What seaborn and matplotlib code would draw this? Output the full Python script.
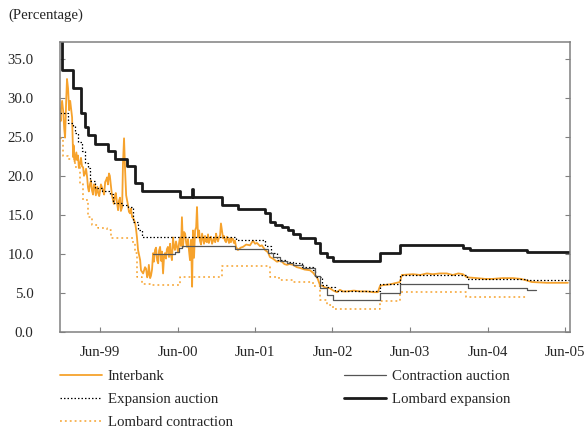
import pandas as pd
import seaborn as sns
import matplotlib.pyplot as plt

# Data (percent), as (date, rate) pairs
interbank = [
    ("1998-11-24", 28.1), ("1998-11-27", 27.0), ("1998-11-29", 28.6), ("1998-12-04", 29.6),
    ("1998-12-09", 28.3), ("1998-12-14", 26.0), ("1998-12-18", 24.9), ("1998-12-23", 29.5),
    ("1998-12-27", 32.4), ("1999-01-01", 31.2), ("1999-01-06", 28.4), ("1999-01-11", 29.6),
    ("1999-01-20", 27.5), ("1999-01-25", 22.4), ("1999-01-27", 23.9), ("1999-02-01", 21.8),
    ("1999-02-09", 23.0), ("1999-02-13", 22.0), ("1999-02-17", 22.6), ("1999-02-21", 21.0),
    ("1999-02-27", 21.6), ("1999-03-03", 22.3), ("1999-03-08", 21.2), ("1999-03-13", 21.1),
    ("1999-03-17", 20.0), ("1999-03-22", 20.3), ("1999-03-27", 20.9), ("1999-04-01", 19.8),
    ("1999-04-05", 18.5), ("1999-04-09", 18.0), ("1999-04-15", 19.0), ("1999-04-19", 19.4),
    ("1999-04-24", 18.1), ("1999-04-29", 17.6), ("1999-05-03", 18.9), ("1999-05-08", 18.8),
    ("1999-05-12", 17.5), ("1999-05-15", 18.0), ("1999-05-19", 18.6), ("1999-05-23", 17.8),
    ("1999-05-28", 17.4), ("1999-06-05", 18.9), ("1999-06-10", 18.5), ("1999-06-15", 18.1),
    ("1999-06-20", 17.6), ("1999-06-25", 19.2), ("1999-06-30", 19.5), ("1999-07-04", 19.8),
    ("1999-07-08", 18.9), ("1999-07-13", 20.3), ("1999-07-17", 20.0), ("1999-07-23", 18.5),
    ("1999-07-27", 17.5), ("1999-08-01", 16.9), ("1999-08-05", 16.4), ("1999-08-10", 17.4),
    ("1999-08-14", 17.8), ("1999-08-20", 16.5), ("1999-08-25", 15.6), ("1999-08-29", 16.8),
    ("1999-09-03", 17.2), ("1999-09-07", 15.5), ("1999-09-13", 16.0), ("1999-09-17", 21.6),
    ("1999-09-22", 24.8), ("1999-09-27", 20.7), ("1999-10-02", 17.5), ("1999-10-06", 16.9),
    ("1999-10-11", 16.2), ("1999-10-15", 15.4), ("1999-10-20", 15.2), ("1999-10-25", 15.8),
    ("1999-10-30", 14.7), ("1999-11-04", 14.6), ("1999-11-13", 14.0), ("1999-11-17", 13.3),
    ("1999-11-22", 12.1), ("1999-11-27", 10.5), ("1999-12-07", 9.2), ("1999-12-11", 7.9),
    ("1999-12-21", 7.5), ("1999-12-30", 8.3), ("2000-01-04", 8.1), ("2000-01-09", 7.0),
    ("2000-01-13", 7.3), ("2000-01-17", 8.6), ("2000-01-23", 6.9), ("2000-01-27", 7.2),
    ("2000-02-01", 8.0), ("2000-02-06", 10.1), ("2000-02-10", 9.0), ("2000-02-15", 10.5),
    ("2000-02-20", 10.8), ("2000-02-25", 9.2), ("2000-03-01", 8.8), ("2000-03-05", 10.4),
    ("2000-03-10", 10.9), ("2000-03-15", 9.1), ("2000-03-19", 10.3), ("2000-03-24", 7.5),
    ("2000-03-29", 9.8), ("2000-04-02", 10.1), ("2000-04-07", 9.4), ("2000-04-11", 10.6),
    ("2000-04-16", 10.9), ("2000-04-21", 9.6), ("2000-04-26", 11.3), ("2000-04-30", 9.9),
    ("2000-05-05", 9.2), ("2000-05-10", 12.1), ("2000-05-14", 11.0), ("2000-05-19", 10.5),
    ("2000-05-24", 11.6), ("2000-05-29", 10.9), ("2000-06-03", 10.2), ("2000-06-08", 11.5),
    ("2000-06-12", 12.1), ("2000-06-17", 11.0), ("2000-06-21", 14.7), ("2000-06-26", 10.9),
    ("2000-07-01", 12.8), ("2000-07-06", 12.6), ("2000-07-11", 11.4), ("2000-07-15", 10.9),
    ("2000-07-20", 11.9), ("2000-07-24", 10.5), ("2000-07-29", 9.2), ("2000-08-03", 11.8),
    ("2000-08-08", 5.8), ("2000-08-12", 13.0), ("2000-08-17", 9.5), ("2000-08-22", 13.0),
    ("2000-08-27", 13.4), ("2000-08-31", 16.0), ("2000-09-05", 12.1), ("2000-09-10", 13.0),
    ("2000-09-14", 11.7), ("2000-09-19", 11.2), ("2000-09-24", 12.6), ("2000-09-28", 12.0),
    ("2000-10-03", 11.3), ("2000-10-08", 12.3), ("2000-10-12", 11.6), ("2000-10-17", 11.5),
    ("2000-10-22", 12.5), ("2000-10-26", 11.4), ("2000-10-31", 12.0), ("2000-11-05", 12.2),
    ("2000-11-10", 11.3), ("2000-11-15", 11.7), ("2000-11-20", 12.1), ("2000-11-25", 11.5),
    ("2000-11-29", 12.6), ("2000-12-03", 12.0), ("2000-12-08", 11.6), ("2000-12-13", 12.1),
    ("2000-12-18", 12.4), ("2000-12-22", 13.9), ("2001-01-01", 12.0), ("2001-01-05", 12.3),
    ("2001-01-10", 11.7), ("2001-01-15", 11.5), ("2001-01-19", 12.2), ("2001-01-24", 11.9),
    ("2001-01-29", 11.4), ("2001-02-03", 12.0), ("2001-02-07", 11.5), ("2001-02-12", 12.0),
    ("2001-02-17", 11.9), ("2001-02-21", 11.4), ("2001-02-26", 11.7), ("2001-03-03", 10.9),
    ("2001-03-12", 10.5), ("2001-03-25", 10.8), ("2001-04-05", 10.9), ("2001-04-20", 11.2),
    ("2001-05-08", 11.1), ("2001-05-22", 11.7), ("2001-06-01", 11.3), ("2001-06-10", 11.4),
    ("2001-06-24", 11.0), ("2001-07-03", 11.1), ("2001-07-18", 10.5), ("2001-08-01", 10.2),
    ("2001-08-10", 9.6), ("2001-08-24", 9.4), ("2001-09-12", 9.0), ("2001-09-25", 9.1),
    ("2001-10-06", 9.0), ("2001-10-17", 8.7), ("2001-10-29", 8.6), ("2001-11-10", 8.7),
    ("2001-11-27", 8.6), ("2001-12-15", 8.3), ("2001-12-30", 8.2), ("2002-01-20", 8.0),
    ("2002-02-15", 7.9), ("2002-03-01", 7.6), ("2002-03-10", 7.3), ("2002-03-22", 6.9),
    ("2002-04-03", 6.0), ("2002-04-15", 5.9), ("2002-04-26", 5.7), ("2002-05-20", 5.6),
    ("2002-06-05", 5.3), ("2002-06-22", 5.1), ("2002-07-06", 5.4), ("2002-07-20", 5.2),
    ("2002-08-08", 5.2), ("2002-09-10", 5.3), ("2002-10-08", 5.2), ("2002-11-10", 5.2),
    ("2002-12-09", 5.1), ("2003-01-01", 5.1), ("2003-01-11", 5.9), ("2003-01-25", 6.0),
    ("2003-02-27", 6.1), ("2003-04-15", 6.4), ("2003-04-24", 7.3), ("2003-06-15", 7.4),
    ("2003-07-20", 7.3), ("2003-08-20", 7.5), ("2003-09-17", 7.4), ("2003-10-20", 7.5),
    ("2003-11-22", 7.5), ("2003-12-20", 7.3), ("2004-01-15", 7.5), ("2004-02-06", 7.4),
    ("2004-02-25", 7.0), ("2004-04-12", 6.9), ("2004-05-20", 6.8), ("2004-06-26", 6.8),
    ("2004-08-10", 6.9), ("2004-09-29", 6.9), ("2004-11-05", 6.8), ("2004-12-03", 6.6),
    ("2004-12-27", 6.4), ("2005-03-08", 6.3), ("2005-06-15", 6.3),
]

contraction_auction = [
    ("2000-02-06", 10.0), ("2000-05-19", 10.3), ("2000-06-05", 10.7), ("2000-06-21", 11.0),
    ("2001-02-26", 10.6), ("2001-07-31", 10.1), ("2001-08-25", 9.6), ("2001-09-27", 9.1),
    ("2001-10-30", 8.8), ("2001-11-28", 8.6), ("2002-01-13", 8.2), ("2002-03-10", 7.2),
    ("2002-04-03", 5.6), ("2002-05-04", 4.7), ("2002-06-03", 4.1), ("2003-01-11", 5.0),
    ("2003-04-15", 6.1), ("2004-03-01", 5.6), ("2004-12-03", 5.4), ("2005-01-15", 5.4),
]

expansion_auction = [
    ("1998-11-24", 28.1), ("1999-01-01", 26.7), ("1999-01-25", 26.4), ("1999-02-05", 25.5),
    ("1999-02-17", 24.3), ("1999-03-08", 23.2), ("1999-03-22", 21.7), ("1999-04-05", 21.0),
    ("1999-04-15", 19.4), ("1999-05-08", 18.4), ("1999-06-10", 18.1), ("1999-07-18", 17.7),
    ("1999-08-01", 16.5), ("1999-09-13", 16.2), ("1999-10-11", 16.0), ("1999-11-04", 14.1),
    ("1999-11-27", 13.0), ("1999-12-16", 12.2), ("2001-03-03", 11.8), ("2001-07-18", 11.0),
    ("2001-08-14", 10.1), ("2001-09-10", 9.2), ("2001-10-29", 9.0), ("2001-11-27", 8.8),
    ("2002-01-09", 8.3), ("2002-03-01", 7.9), ("2002-03-10", 7.0), ("2002-04-13", 6.0),
    ("2002-05-06", 5.7), ("2002-06-12", 5.2), ("2003-01-11", 6.2), ("2003-04-15", 7.3),
    ("2004-02-25", 6.8), ("2004-12-03", 6.6), ("2005-06-25", 6.6),
]

lombard_expansion = [
    ("1998-11-24", 40.0), ("1998-12-04", 33.5), ("1999-01-25", 31.3), ("1999-03-04", 28.1),
    ("1999-03-22", 26.2), ("1999-04-05", 25.2), ("1999-05-08", 24.1), ("1999-07-08", 23.2),
    ("1999-08-11", 22.2), ("1999-10-06", 21.2), ("1999-11-13", 19.1), ("1999-12-16", 18.1),
    ("2000-06-12", 17.3), ("2000-08-06", 18.3), ("2000-08-10", 17.3), ("2000-12-28", 16.2),
    ("2001-03-12", 15.7), ("2001-07-16", 15.2), ("2001-08-10", 14.1), ("2001-09-03", 13.7),
    ("2001-10-06", 13.4), ("2001-11-04", 13.0), ("2001-11-28", 12.6), ("2001-12-30", 12.1),
    ("2002-02-15", 12.0), ("2002-03-10", 11.4), ("2002-04-03", 10.1), ("2002-05-06", 9.6),
    ("2002-06-03", 9.1), ("2003-01-11", 10.1), ("2003-04-15", 11.1), ("2004-02-06", 10.7),
    ("2004-03-10", 10.5), ("2004-12-03", 10.3), ("2005-06-25", 10.3),
]

lombard_contraction = [
    ("1998-11-24", 24.8), ("1998-12-09", 22.6), ("1999-01-01", 22.2), ("1999-02-05", 21.1),
    ("1999-02-27", 19.0), ("1999-03-13", 16.9), ("1999-04-05", 14.7), ("1999-04-24", 13.7),
    ("1999-05-23", 13.3), ("1999-07-04", 13.0), ("1999-07-23", 12.0), ("1999-11-04", 11.4),
    ("1999-11-13", 10.1), ("1999-11-22", 7.0), ("1999-12-16", 6.2), ("2000-01-23", 6.0),
    ("2000-06-12", 7.0), ("2000-12-28", 8.4), ("2001-08-10", 7.0), ("2001-09-22", 6.6),
    ("2001-11-27", 6.4), ("2002-02-28", 5.9), ("2002-04-03", 4.1), ("2002-05-06", 3.4),
    ("2002-06-03", 3.0), ("2003-01-11", 4.0), ("2003-04-15", 5.1), ("2004-02-20", 4.5),
    ("2004-12-03", 4.5),
]

year_ticks = ["1999-06-01", "2000-06-01", "2001-06-01", "2002-06-01",
              "2003-06-01", "2004-06-01", "2005-06-01"]
year_labels = ["Jun-99", "Jun-00", "Jun-01", "Jun-02", "Jun-03", "Jun-04", "Jun-05"]
y_ticks = [0, 5, 10, 15, 20, 25, 30, 35]

ORANGE = "#f6a22c"
FS = 10.7

sns.set_style("ticks")
plt.rcParams["font.family"] = ["Liberation Serif", "DejaVu Serif"]
plt.rcParams["font.size"] = FS

fig = plt.figure(figsize=(5.84, 4.3), dpi=100)
ax = fig.add_axes([60 / 584, 1 - 332 / 430, 510 / 584, 290.5 / 430])


def frame(pairs):
    df = pd.DataFrame(pairs, columns=["date", "rate"])
    df["date"] = pd.to_datetime(df["date"])
    return df


sns.lineplot(data=frame(interbank), x="date", y="rate", ax=ax,
             color=ORANGE, lw=1.3, label="Interbank")
sns.lineplot(data=frame(expansion_auction), x="date", y="rate", ax=ax,
             color="black", lw=0.9, linestyle=(0, (1.2, 1.6)), drawstyle="steps-post",
             label="Expansion auction")
sns.lineplot(data=frame(lombard_contraction), x="date", y="rate", ax=ax,
             color=ORANGE, lw=1.1, linestyle=(0, (1.2, 2.0)), drawstyle="steps-post",
             label="Lombard contraction")
sns.lineplot(data=frame(contraction_auction), x="date", y="rate", ax=ax,
             color="#555555", lw=0.9, drawstyle="steps-post", label="Contraction auction")
sns.lineplot(data=frame(lombard_expansion), x="date", y="rate", ax=ax,
             color="#1a1a1a", lw=2.0, drawstyle="steps-post", label="Lombard expansion")

ax.set_xlim(pd.Timestamp("1998-11-24"), pd.Timestamp("2005-06-25"))
ax.set_ylim(0, 37.2)
ax.set_yticks(y_ticks)
ax.set_yticklabels([f"{v:.1f}" for v in y_ticks])
ax.set_xticks(pd.to_datetime(year_ticks))
ax.set_xticklabels(year_labels)
ax.set_xlabel("")
ax.set_ylabel("")

for side in ["left", "right", "top", "bottom"]:
    ax.spines[side].set_visible(True)
    ax.spines[side].set_color("#808080")
    ax.spines[side].set_linewidth(1.1)
ax.tick_params(axis="y", direction="in", length=3.5, color="#808080", pad=19,
               right=True, labelsize=FS)
ax.tick_params(axis="x", direction="in", length=3.5, color="#808080", pad=10,
               labelsize=FS)

handles, labels = ax.get_legend_handles_labels()
ax.get_legend().remove()
hmap = dict(zip(labels, handles))

leg_kw = dict(frameon=False, loc="upper left", borderpad=0, borderaxespad=0,
              handlelength=2.8, handletextpad=0.42, labelspacing=0.64, fontsize=FS)
col1 = ["Interbank", "Expansion auction", "Lombard contraction"]
col2 = ["Contraction auction", "Lombard expansion"]
fig.legend([hmap[k] for k in col1], col1,
           bbox_to_anchor=(60 / 584, 1 - 370 / 430), **leg_kw)
fig.legend([hmap[k] for k in col2], col2,
           bbox_to_anchor=(344 / 584, 1 - 370 / 430), **leg_kw)

fig.text(8 / 584, 1 - 15 / 430, "(Percentage)", fontsize=FS, va="center", ha="left")

plt.savefig("out.png", dpi=100)
